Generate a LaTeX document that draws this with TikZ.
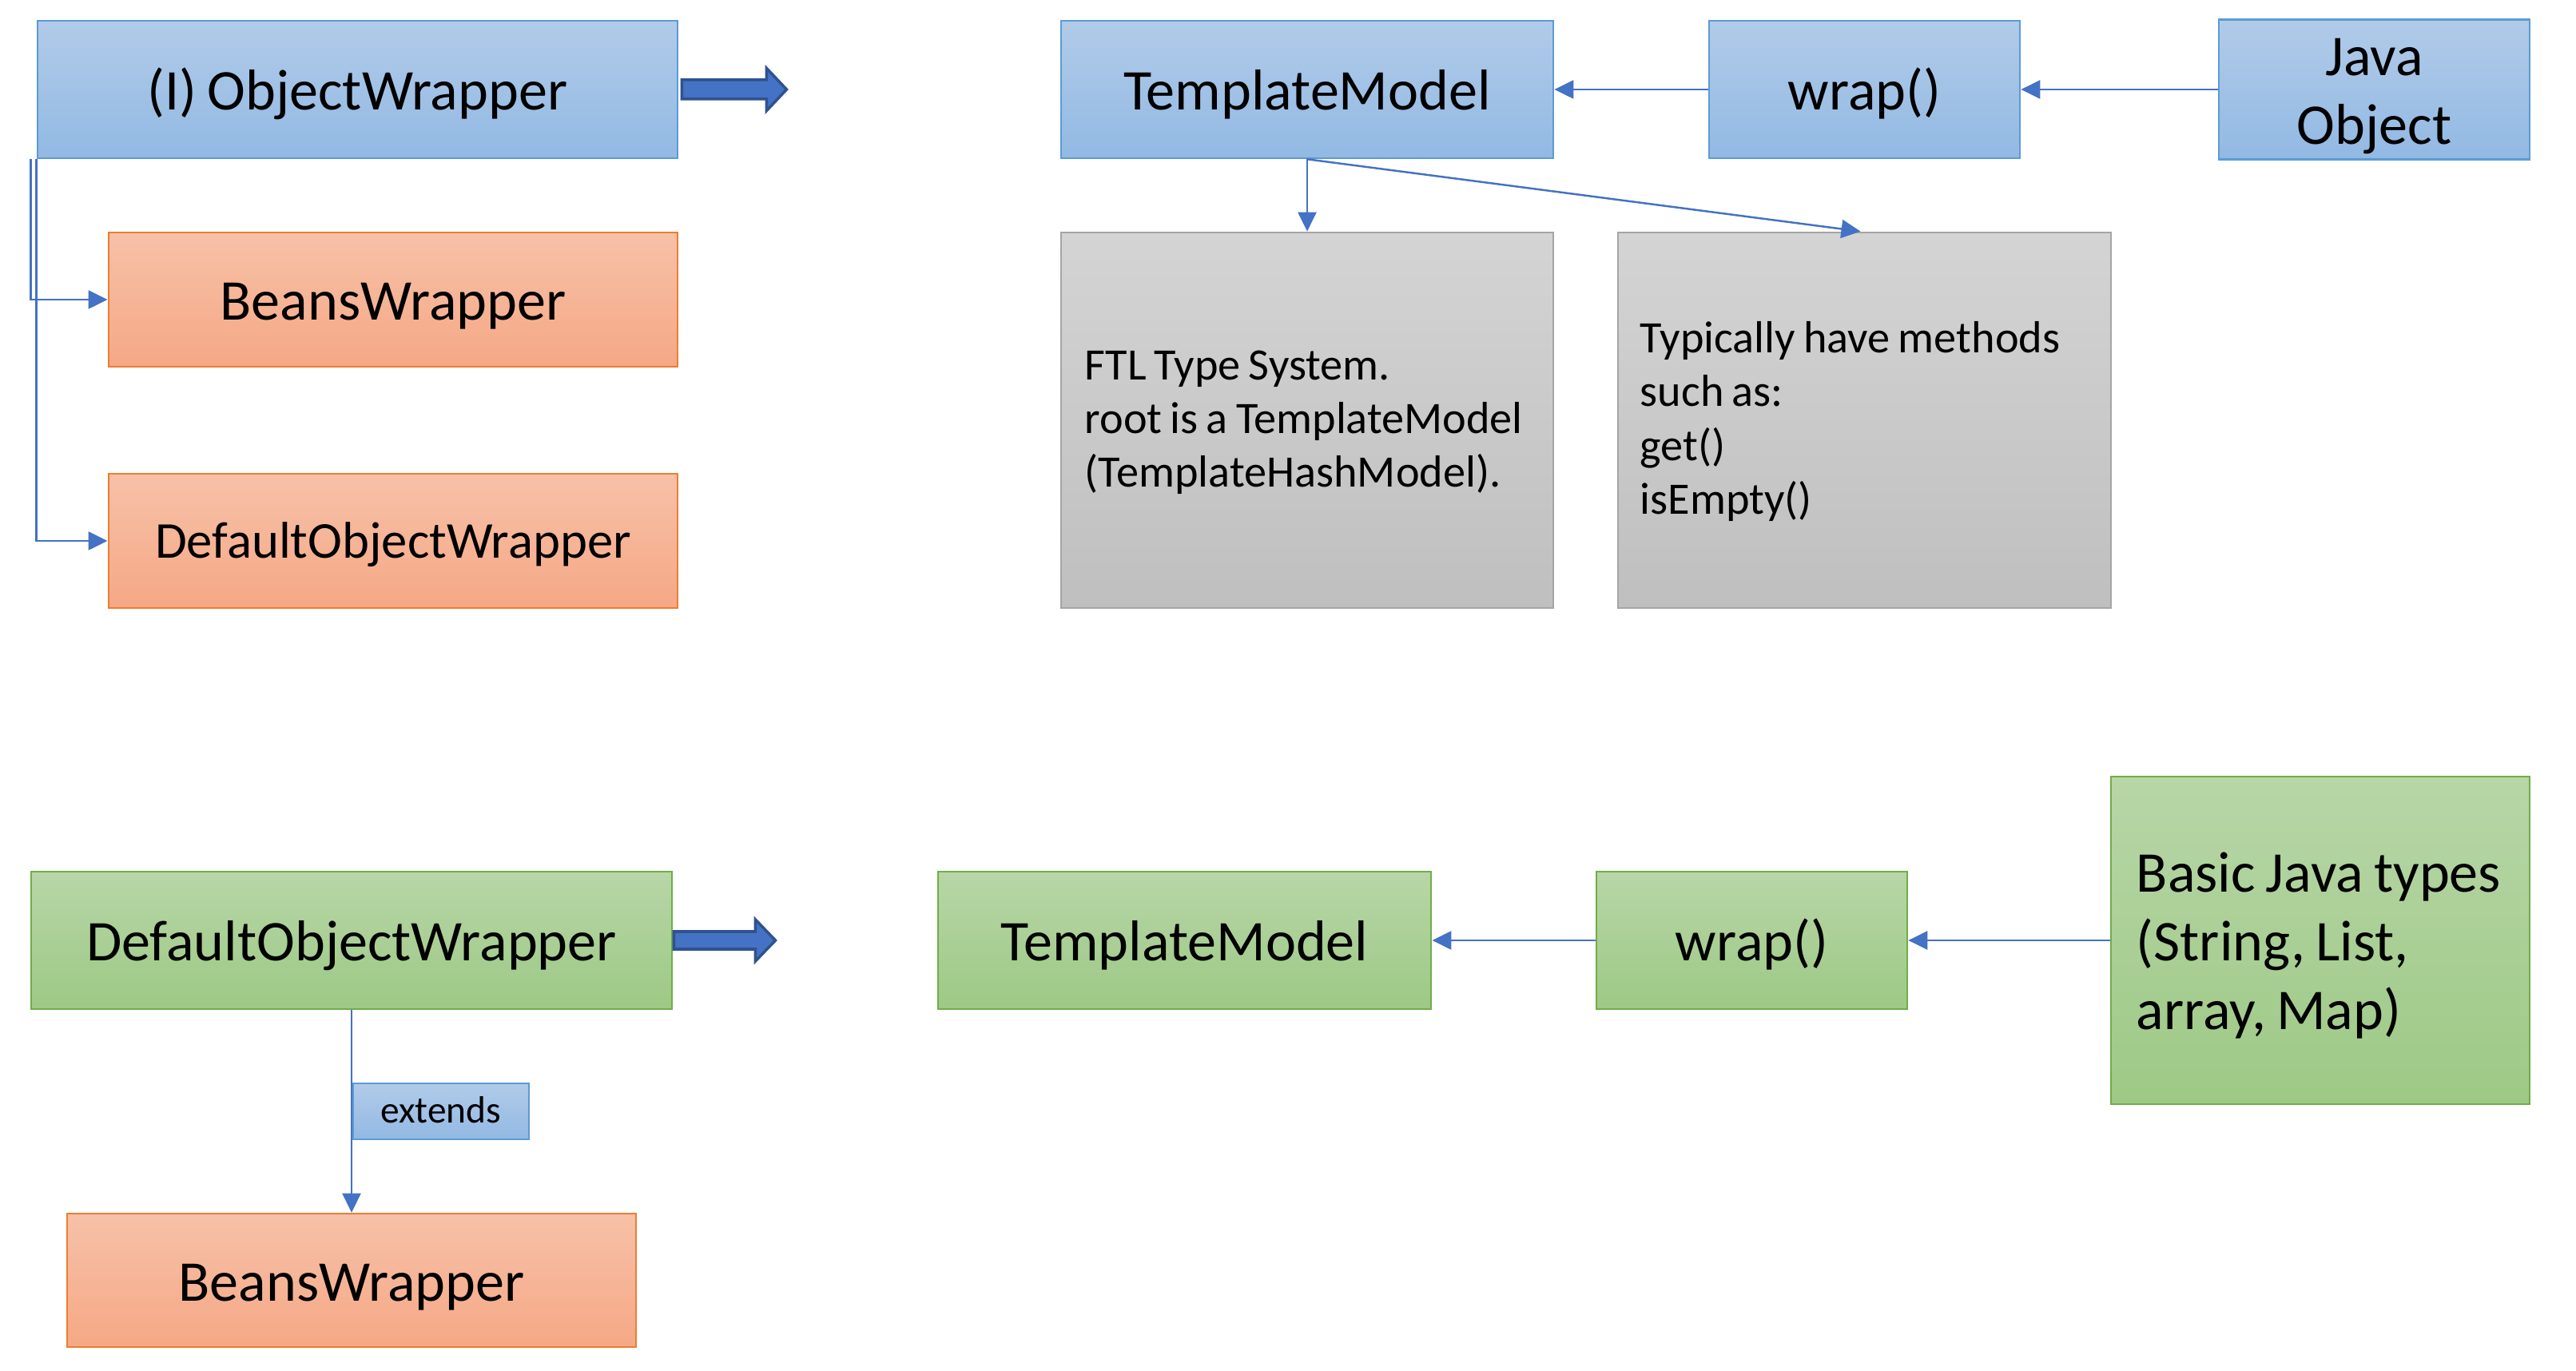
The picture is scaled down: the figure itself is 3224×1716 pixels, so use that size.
\documentclass[tikz,border=0pt]{standalone}
\usepackage{fontspec}
\setmainfont{Carlito}[WordSpace=0.8]
\usetikzlibrary{calc,arrows.meta}
\definecolor{blueT}{RGB}{177,203,233}
\definecolor{blueB}{RGB}{146,185,227}
\definecolor{blueE}{RGB}{91,155,213}
\definecolor{orT}{RGB}{247,193,168}
\definecolor{orB}{RGB}{245,168,133}
\definecolor{orE}{RGB}{237,125,49}
\definecolor{grT}{RGB}{184,214,167}
\definecolor{grB}{RGB}{157,201,133}
\definecolor{grE}{RGB}{112,173,71}
\definecolor{gyT}{RGB}{212,212,212}
\definecolor{gyB}{RGB}{191,191,191}
\definecolor{gyE}{RGB}{165,165,165}
\definecolor{lineC}{RGB}{68,114,196}
\definecolor{arrE}{RGB}{47,82,143}
\newcommand\firstln[1]{\rule{0pt}{#1}}
\newcommand\lastln[1]{\rule[-#1]{0pt}{#1}}
\tikzset{
  box/.style={rectangle, line width=0.7pt, inner sep=0pt, align=center,
    font=\fontsize{20.5}{24.4}\selectfont},
  oneline/.style={text height=20pt, text depth=5.4pt},
  bluebox/.style={box, draw=blueE, top color=blueT, bottom color=blueB},
  orbox/.style={box, draw=orE, top color=orT, bottom color=orB},
  grbox/.style={box, draw=grE, top color=grT, bottom color=grB},
  gybox/.style={box, draw=gyE, top color=gyT, bottom color=gyB,
    font=\fontsize{16}{19.1}\selectfont, align=left},
  conn/.style={draw=lineC, line width=0.7pt,
    -{Triangle[length=0.24cm,width=0.23cm]}},
  blockarrow/.style={fill=lineC, draw=arrE, line width=1pt, line join=miter},
}
\begin{document}
\begin{tikzpicture}[x=0.01cm,y=-0.01cm]
\useasboundingbox (0,0) rectangle (3224,1716);
% top-left
\node[bluebox, oneline, minimum width=8.01cm, minimum height=1.72cm] (ow) at (447.5,112) {(I) ObjectWrapper};
\node[orbox, oneline, minimum width=7.12cm, minimum height=1.68cm] (bw1) at (492,375) {BeansWrapper};
\node[orbox, minimum width=7.12cm, minimum height=1.68cm, font=\fontsize{18.4}{22}\selectfont,
  text height=17.5pt, text depth=5pt] (dow1) at (492,677) {DefaultObjectWrapper};
% top-right
\node[bluebox, oneline, minimum width=6.16cm, minimum height=1.72cm] (tm1) at (1636,112) {TemplateModel};
\node[bluebox, oneline, minimum width=3.89cm, minimum height=1.72cm] (wrap1) at (2333.5,112) {wrap()};
\node[bluebox, minimum width=3.89cm, minimum height=1.72cm] (jo) at (2971.5,112)
  {\firstln{20pt}Java\\Object\lastln{5.4pt}};
\node[gybox, minimum width=6.16cm, minimum height=4.70cm] (g1) at (1636,526)
  {\makebox[5.56cm][l]{\firstln{13.9pt}FTL Type System.}\\root is a TemplateModel\\(TemplateHashModel).\lastln{4.5pt}};
\node[gybox, minimum width=6.17cm, minimum height=4.70cm] (g2) at (2333.5,526)
  {\makebox[5.61cm][l]{\firstln{13.9pt}Typically have methods}\\such as:\\get()\\isEmpty()\lastln{4.5pt}};
% bottom
\node[grbox, oneline, minimum width=8.02cm, minimum height=1.72cm] (dow2) at (440,1177) {DefaultObjectWrapper};
\node[grbox, oneline, minimum width=6.17cm, minimum height=1.72cm] (tm2) at (1482.5,1177) {TemplateModel};
\node[grbox, oneline, minimum width=3.89cm, minimum height=1.72cm] (wrap2) at (2192.5,1177) {wrap()};
\node[grbox, minimum width=5.24cm, minimum height=4.10cm, align=left] (bjt) at (2904,1177)
  {\makebox[4.6cm][l]{\firstln{20pt}Basic Java types}\\(String, List,\\array, Map)\lastln{5.4pt}};
\node[orbox, oneline, minimum width=7.12cm, minimum height=1.67cm] (bw2) at (440,1602.5) {BeansWrapper};
% connectors
\draw[conn] ($(ow.south west)+(-7,0)$) |- (bw1.west);
\draw[conn] (ow.south west) |- (dow1.west);
\draw[conn] (wrap1.west) -- (tm1.east);
\draw[conn] (jo.west) -- (wrap1.east);
\draw[conn] (tm1.south) -- (g1.north);
\draw[conn] (tm1.south) -- ($(g2.north)+(-5,0)$);
\draw[conn] (wrap2.west) -- (tm2.east);
\draw[conn] (bjt.west) -- (wrap2.east);
\draw[conn] (dow2.south) -- (bw2.north);
\node[bluebox, anchor=west, minimum width=2.2cm, minimum height=0.70cm, font=\fontsize{13.5}{16}\selectfont,
  text height=12pt, text depth=3.5pt] (ext) at (440.5,1391) {extends};
% block arrows
\draw[blockarrow] ($(ow.east)+(4,-12)$) -- ++(106,0) -- ++(0,-14.5) -- ($(ow.east)+(135,0)$)
  -- ($(ow.east)+(110,26.5)$) -- ++(0,-14.5) -- ($(ow.east)+(4,12)$) -- cycle;
\draw[blockarrow] ($(dow2.east)+(1,-11)$) -- ++(102,0) -- ++(0,-15) -- ($(dow2.east)+(128,0)$)
  -- ($(dow2.east)+(103,26)$) -- ++(0,-15) -- ($(dow2.east)+(1,11)$) -- cycle;
\end{tikzpicture}
\end{document}
